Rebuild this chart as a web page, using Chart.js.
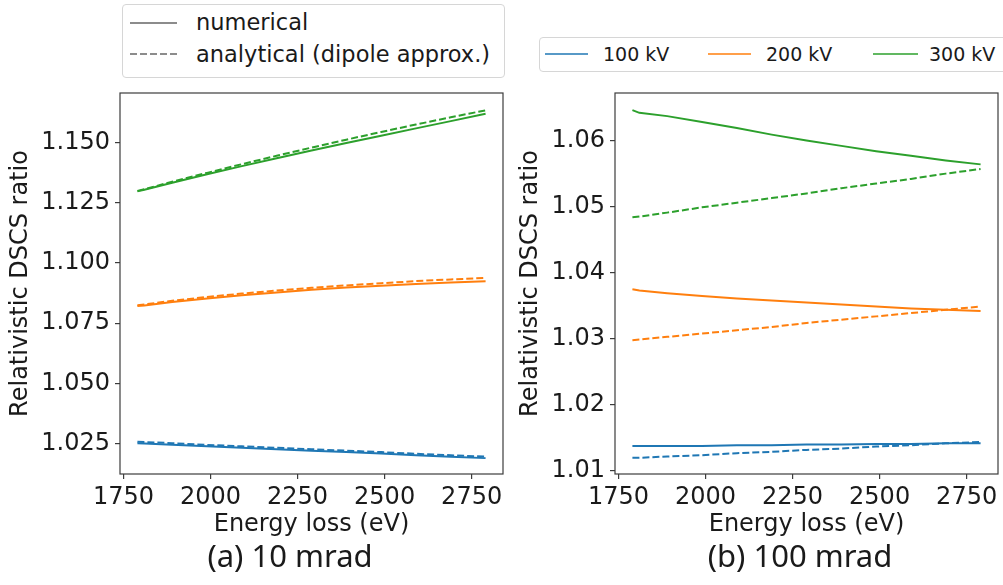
<!DOCTYPE html>
<html>
<head>
<meta charset="utf-8">
<title>Relativistic DSCS ratio</title>
<script src="https://cdn.jsdelivr.net/npm/chart.js"></script>
<style>
  body { margin: 0; background: #fff; }
  .page { position: relative; width: 1003px; height: 585px; overflow: hidden;
          font-family: "DejaVu Sans", sans-serif; color: #1a1a1a; }
  canvas { position: absolute; top: 0; }
  .legend { position: absolute; border: 1px solid #d6d6d6; border-radius: 4px; background: #fff; }
  .legend svg { position: absolute; }
  .legend span { position: absolute; white-space: nowrap; }
  .caption { position: absolute; font-family: "Noto Sans", sans-serif; font-size: 31px;
             line-height: 31px; transform: translateX(-50%); white-space: nowrap; }
</style>
</head>
<body>
<div class="page">
  <canvas id="chartA" width="510" height="585" style="left:0"></canvas>
  <canvas id="chartB" width="498" height="585" style="left:505px"></canvas>

  <div class="legend" style="left:122px; top:4px; width:381px; height:72px;">
    <svg style="left:7px; top:16px" width="47" height="4"><line x1="0" y1="2" x2="47" y2="2" stroke="#8c8c8c" stroke-width="2"/></svg>
    <span style="left:73px; top:4px; font-size:22.5px; line-height:26px;">numerical</span>
    <svg style="left:7px; top:47px" width="47" height="4"><line x1="0" y1="2" x2="47" y2="2" stroke="#8c8c8c" stroke-width="2" stroke-dasharray="7 3"/></svg>
    <span style="left:73px; top:36px; font-size:22.5px; line-height:26px;">analytical (dipole approx.)</span>
  </div>

  <div class="legend" style="left:539px; top:37px; width:480px; height:33px;">
    <svg style="left:5px; top:14px" width="43" height="4"><line x1="0" y1="2" x2="43" y2="2" stroke="#1f77b4" stroke-width="1.6"/></svg>
    <span style="left:63px; top:5px; font-size:19px; line-height:22px;">100 kV</span>
    <svg style="left:168px; top:14px" width="43" height="4"><line x1="0" y1="2" x2="43" y2="2" stroke="#ff7f0e" stroke-width="1.6"/></svg>
    <span style="left:226px; top:5px; font-size:19px; line-height:22px;">200 kV</span>
    <svg style="left:333px; top:14px" width="45" height="4"><line x1="0" y1="2" x2="45" y2="2" stroke="#2ca02c" stroke-width="1.6"/></svg>
    <span style="left:389px; top:5px; font-size:19px; line-height:22px;">300 kV</span>
  </div>

  <div class="caption" style="left:290px; top:540px;">(a) 10 mrad</div>
  <div class="caption" style="left:800px; top:540px;">(b) 100 mrad</div>
</div>

<script>
// energy loss grid (eV), shared by every curve
const energy = [1790, 1810, 1890, 1990, 2090, 2190, 2290, 2390, 2490, 2590, 2690, 2790];

// (a) 10 mrad: numerical and analytical ratios per accelerating voltage
const num10_100kV = [1.0251, 1.0250, 1.0245, 1.0238, 1.0232, 1.0226, 1.0220, 1.0214, 1.0208, 1.0201, 1.0195, 1.0189];
const ana10_100kV = [1.0257, 1.0256, 1.0251, 1.0244, 1.0238, 1.0232, 1.0226, 1.0220, 1.0214, 1.0207, 1.0201, 1.0195];
const num10_200kV = [1.0821, 1.0824, 1.0838, 1.0853, 1.0866, 1.0878, 1.0889, 1.0898, 1.0906, 1.0913, 1.0919, 1.0924];
const ana10_200kV = [1.0825, 1.0828, 1.0843, 1.0859, 1.0873, 1.0886, 1.0897, 1.0907, 1.0916, 1.0925, 1.0932, 1.0938];
const num10_300kV = [1.1298, 1.1305, 1.1334, 1.1369, 1.1403, 1.1436, 1.1468, 1.1499, 1.1529, 1.1560, 1.1590, 1.1621];
const ana10_300kV = [1.1300, 1.1307, 1.1338, 1.1375, 1.1411, 1.1446, 1.1480, 1.1513, 1.1545, 1.1576, 1.1606, 1.1635];

// (b) 100 mrad
const num100_100kV = [1.0138, 1.0138, 1.0138, 1.0138, 1.0139, 1.0139, 1.0140, 1.0140, 1.0141, 1.0141, 1.0142, 1.0142];
const ana100_100kV = [1.0120, 1.0120, 1.0122, 1.0124, 1.0127, 1.0129, 1.0132, 1.0134, 1.0137, 1.0139, 1.0142, 1.0144];
const num100_200kV = [1.0375, 1.0373, 1.0369, 1.0365, 1.0361, 1.0358, 1.0355, 1.0352, 1.0349, 1.0346, 1.0344, 1.0342];
const ana100_200kV = [1.0298, 1.0299, 1.0303, 1.0308, 1.0313, 1.0318, 1.0324, 1.0329, 1.0334, 1.0339, 1.0344, 1.0349];
const num100_300kV = [1.0646, 1.0642, 1.0637, 1.0628, 1.0619, 1.0609, 1.0600, 1.0592, 1.0584, 1.0577, 1.0570, 1.0564];
const ana100_300kV = [1.0484, 1.0485, 1.0491, 1.0499, 1.0506, 1.0513, 1.0520, 1.0528, 1.0535, 1.0542, 1.0550, 1.0557];

// tick labels
const xTicks = [1750, 2000, 2250, 2500, 2750];
const yTicksA = [1.025, 1.050, 1.075, 1.100, 1.125, 1.150];
const yTicksB = [1.01, 1.02, 1.03, 1.04, 1.05, 1.06];

const BLUE = '#1f77b4', ORANGE = '#ff7f0e', GREEN = '#2ca02c';
const TEXT = '#1a1a1a', SPINE = '#3c3c3c';
const tickFont = { family: 'DejaVu Sans', size: 24 };
const titleFont = { family: 'DejaVu Sans', size: 24 };

// box around the plot area
const frame = {
  id: 'frame',
  afterDatasetsDraw(chart) {
    const { ctx, chartArea: a } = chart;
    ctx.save();
    ctx.strokeStyle = SPINE;
    ctx.lineWidth = 1.2;
    ctx.strokeRect(a.left, a.top, a.right - a.left, a.bottom - a.top);
    ctx.restore();
  }
};

function pairs(ys) {
  return energy.map((x, i) => ({ x: x, y: ys[i] }));
}

function buildChart(id, series, o) {
  const datasets = [];
  series.forEach(s => {
    datasets.push({ data: pairs(s.num), borderColor: s.color, borderWidth: 2, pointRadius: 0, fill: false });
    datasets.push({ data: pairs(s.ana), borderColor: s.color, borderWidth: 2, borderDash: [7, 3], pointRadius: 0, fill: false });
  });

  return new Chart(document.getElementById(id), {
    type: 'line',
    data: { datasets: datasets },
    options: {
      responsive: false,
      animation: false,
      layout: { padding: { top: 93, right: o.padRight, left: 0, bottom: 0 }, autoPadding: false },
      plugins: { legend: { display: false }, tooltip: { enabled: false } },
      scales: {
        x: {
          type: 'linear', min: 1740, max: 2840,
          afterBuildTicks: s => { s.ticks = xTicks.map(v => ({ value: v })); },
          afterFit: s => { s.height = 111; },
          border: { display: false },
          grid: { drawOnChartArea: false, tickLength: 5, color: SPINE, lineWidth: 1.2 },
          ticks: { font: tickFont, color: TEXT, padding: 4, maxRotation: 0, autoSkip: false,
                   callback: v => String(v) },
          title: { display: true, text: 'Energy loss (eV)', font: titleFont, color: TEXT,
                   padding: { top: 0, bottom: 46 } }
        },
        y: {
          type: 'linear', min: o.yMin, max: o.yMax,
          afterBuildTicks: s => { s.ticks = o.yTicks.map(v => ({ value: v })); },
          afterFit: s => { s.width = o.yWidth; },
          border: { display: false },
          grid: { drawOnChartArea: false, tickLength: 5, color: SPINE, lineWidth: 1.2 },
          ticks: { font: tickFont, color: TEXT, padding: 5, autoSkip: false,
                   callback: v => v.toFixed(o.digits) },
          title: { display: true, text: 'Relativistic DSCS ratio', font: titleFont, color: TEXT,
                   padding: { top: o.titlePad, bottom: 0 } }
        }
      }
    },
    plugins: [frame]
  });
}

buildChart('chartA', [
  { color: BLUE, num: num10_100kV, ana: ana10_100kV },
  { color: ORANGE, num: num10_200kV, ana: ana10_200kV },
  { color: GREEN, num: num10_300kV, ana: ana10_300kV }
], { yMin: 1.0123, yMax: 1.1707, yTicks: yTicksA, digits: 3, yWidth: 120, padRight: 7, titlePad: 6 });

buildChart('chartB', [
  { color: BLUE, num: num100_100kV, ana: ana100_100kV },
  { color: ORANGE, num: num100_200kV, ana: ana100_200kV },
  { color: GREEN, num: num100_300kV, ana: ana100_300kV }
], { yMin: 1.00955, yMax: 1.0672, yTicks: yTicksB, digits: 2, yWidth: 110, padRight: 5, titlePad: 11 });
</script>
</body>
</html>
